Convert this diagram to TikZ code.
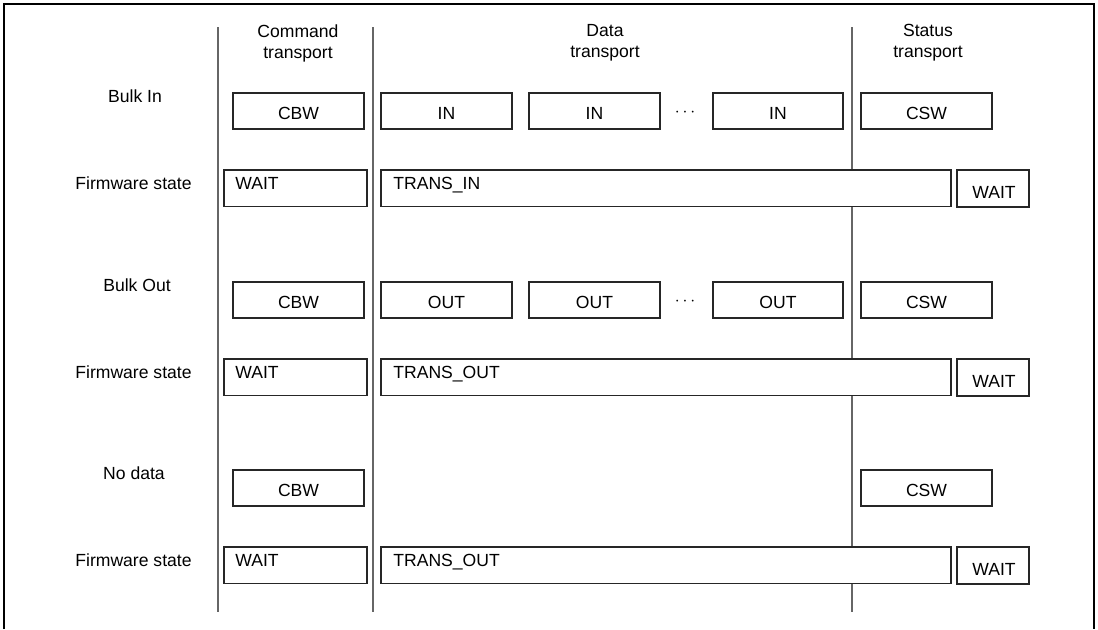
\documentclass[tikz,border=0pt]{standalone}
\usepackage{fontspec}
\setmainfont{Liberation Sans}

\begin{document}
\begin{tikzpicture}[font=\fontsize{10}{12}\selectfont,
  box/.style={draw=black!85,line width=1.1pt,fill=white},
  rule/.style={black!60,line width=0.8pt},
  txt/.style={anchor=base,inner sep=0pt},
  ltxt/.style={anchor=base west,inner sep=0pt}]
\useasboundingbox (0.000,0.000) rectangle (21.960,-12.580);
\draw[black,line width=1.1pt] (0.080,-12.580) -- (0.080,-0.080) -- (21.880,-0.080) -- (21.880,-12.580);
\draw[rule] (4.360,-0.540) -- (4.360,-12.240);
\draw[rule] (7.460,-0.540) -- (7.460,-12.240);
\draw[rule] (17.040,-0.540) -- (17.040,-12.240);
\node[align=center,inner sep=0pt] (hcmd) at (5.960,-0.860) {Command\\transport};
\node[align=center,inner sep=0pt] (hdata) at (12.100,-0.860) {Data\\transport};
\node[align=center,inner sep=0pt] (hstat) at (18.560,-0.860) {Status\\transport};
% bulk in
\node[txt] (lbulkin) at (2.700,-2.050) {Bulk In};
\draw[box] (4.660,-1.860) rectangle (7.280,-2.580);
\node[txt] (cbwa) at (5.970,-2.390) {CBW};
\draw[box] (7.620,-1.860) rectangle (10.240,-2.580);
\node[txt] (ina) at (8.930,-2.390) {IN};
\draw[box] (10.580,-1.860) rectangle (13.200,-2.580);
\node[txt] (inb) at (11.890,-2.390) {IN};
\node[inner sep=0pt] (dotsa) at (13.700,-2.260) {$\cdots$};
\draw[box] (14.260,-1.860) rectangle (16.860,-2.580);
\node[txt] (inc) at (15.560,-2.390) {IN};
\draw[box] (17.220,-1.860) rectangle (19.840,-2.580);
\node[txt] (cswa) at (18.530,-2.390) {CSW};
\node[txt] (lfwa) at (2.670,-3.790) {Firmware state};
\draw[box] (4.480,-3.400) rectangle (7.340,-4.130);
\node[ltxt] (waita) at (4.700,-3.790) {WAIT};
\draw[box] (7.620,-3.400) rectangle (19.020,-4.130);
\node[ltxt] (transa) at (7.860,-3.790) {TRANS\_IN};
\draw[box] (19.140,-3.400) rectangle (20.580,-4.140);
\node[txt] (waitb) at (19.880,-3.970) {WAIT};
% bulk out
\node[txt] (lbulkout) at (2.740,-5.830) {Bulk Out};
\draw[box] (4.660,-5.640) rectangle (7.280,-6.360);
\node[txt] (cbwb) at (5.970,-6.170) {CBW};
\draw[box] (7.620,-5.640) rectangle (10.240,-6.360);
\node[txt] (outa) at (8.930,-6.170) {OUT};
\draw[box] (10.580,-5.640) rectangle (13.200,-6.360);
\node[txt] (outb) at (11.890,-6.170) {OUT};
\node[inner sep=0pt] (dotsb) at (13.700,-6.040) {$\cdots$};
\draw[box] (14.260,-5.640) rectangle (16.860,-6.360);
\node[txt] (outc) at (15.560,-6.170) {OUT};
\draw[box] (17.220,-5.640) rectangle (19.840,-6.360);
\node[txt] (cswb) at (18.530,-6.170) {CSW};
\node[txt] (lfwb) at (2.670,-7.570) {Firmware state};
\draw[box] (4.480,-7.180) rectangle (7.340,-7.910);
\node[ltxt] (waitc) at (4.700,-7.570) {WAIT};
\draw[box] (7.620,-7.180) rectangle (19.020,-7.910);
\node[ltxt] (transb) at (7.860,-7.570) {TRANS\_OUT};
\draw[box] (19.140,-7.180) rectangle (20.580,-7.920);
\node[txt] (waitd) at (19.880,-7.750) {WAIT};
% no data
\node[txt] (lnodata) at (2.680,-9.590) {No data};
\draw[box] (4.660,-9.400) rectangle (7.280,-10.120);
\node[txt] (cbwc) at (5.970,-9.930) {CBW};
\draw[box] (17.220,-9.400) rectangle (19.840,-10.120);
\node[txt] (cswc) at (18.530,-9.930) {CSW};
\node[txt] (lfwc) at (2.670,-11.330) {Firmware state};
\draw[box] (4.480,-10.940) rectangle (7.340,-11.670);
\node[ltxt] (waite) at (4.700,-11.330) {WAIT};
\draw[box] (7.620,-10.940) rectangle (19.020,-11.670);
\node[ltxt] (transc) at (7.860,-11.330) {TRANS\_OUT};
\draw[box] (19.140,-10.940) rectangle (20.580,-11.680);
\node[txt] (waitf) at (19.880,-11.510) {WAIT};
\end{tikzpicture}
\end{document}
